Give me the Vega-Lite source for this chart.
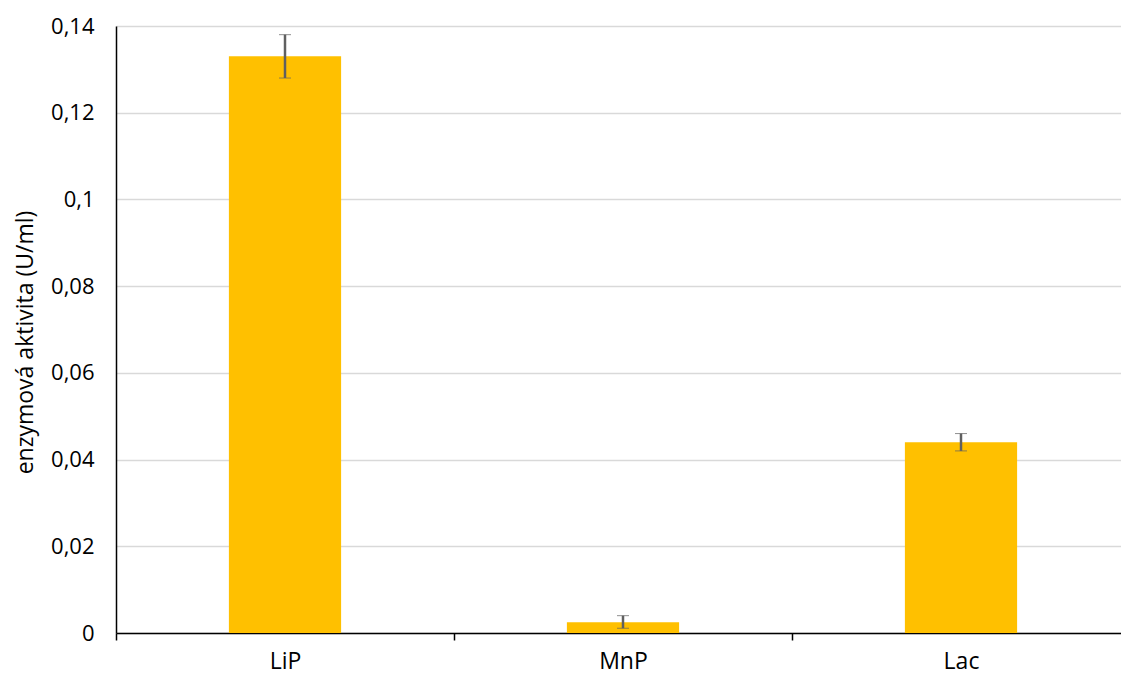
{
  "$schema": "https://vega.github.io/schema/vega-lite/v6.json",
  "width": 1005,
  "height": 607,
  "autosize": {"type": "none"},
  "padding": {"left": 116, "top": 26, "right": 0, "bottom": 49},
  "background": "white",
  "data": {
    "values": [
      {"enzym": "LiP", "aktivita": 0.133, "lo": 0.128, "hi": 0.138},
      {"enzym": "MnP", "aktivita": 0.0025, "lo": 0.0011, "hi": 0.004},
      {"enzym": "Lac", "aktivita": 0.044, "lo": 0.042, "hi": 0.046}
    ]
  },
  "encoding": {
    "x": {
      "field": "enzym",
      "type": "nominal",
      "sort": ["LiP", "MnP", "Lac"],
      "title": null,
      "scale": {"range": [0, 1014], "paddingInner": 0, "paddingOuter": 0},
      "axis": {"labelAngle": 0, "tickBand": "extent"}
    }
  },
  "layer": [
    {
      "mark": {"type": "bar", "color": "#FFC000", "width": {"band": 0.332}},
      "encoding": {
        "y": {
          "field": "aktivita",
          "type": "quantitative",
          "title": "enzymová aktivita (U/ml)",
          "scale": {"domain": [0, 0.14], "nice": false},
          "axis": {
            "values": [0, 0.02, 0.04, 0.06, 0.08, 0.1, 0.12, 0.14],
            "labelExpr": "replace(format(datum.value, '~g'), '.', ',')"
          }
        }
      }
    },
    {
      "mark": {
        "type": "errorbar",
        "ticks": {"size": 12, "color": "#606060", "strokeWidth": 2.5},
        "rule": {"color": "#606060", "strokeWidth": 2.5}
      },
      "encoding": {
        "y": {"field": "lo", "type": "quantitative", "title": "enzymová aktivita (U/ml)"},
        "y2": {"field": "hi"}
      }
    }
  ],
  "config": {
    "view": {"stroke": null},
    "axisX": {
      "labelFont": "Open Sans",
      "labelFontSize": 23,
      "labelColor": "#000000",
      "labelPadding": 10,
      "domainColor": "#000000",
      "domainWidth": 1.5,
      "tickColor": "#000000",
      "tickWidth": 1.5,
      "tickSize": 7,
      "grid": false
    },
    "axisY": {
      "titleFont": "Open Sans",
      "titleFontSize": 23,
      "titleFontWeight": "normal",
      "titleColor": "#000000",
      "titleX": -91,
      "titleY": 316,
      "titleAngle": -90,
      "titleBaseline": "middle",
      "titleAlign": "center",
      "titlePadding": 0,
      "labelFont": "Open Sans",
      "labelFontSize": 22,
      "labelColor": "#000000",
      "labelPadding": 22,
      "ticks": false,
      "domainColor": "#000000",
      "domainWidth": 1.5,
      "grid": true,
      "gridColor": "#d9d9d9",
      "gridWidth": 1.3
    }
  }
}
